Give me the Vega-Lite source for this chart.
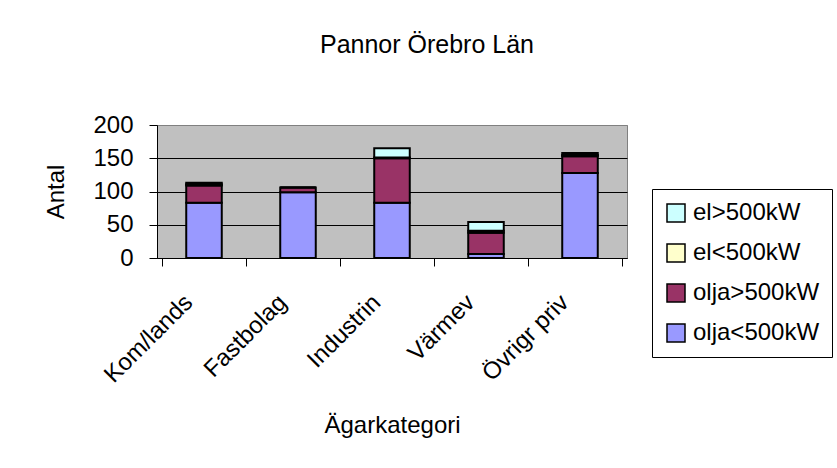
{
  "$schema": "https://vega.github.io/schema/vega-lite/v6.json",
  "width": 470,
  "height": 133,
  "autosize": {"type": "none"},
  "padding": {"left": 157, "top": 125, "right": 210, "bottom": 210},
  "background": "white",
  "title": {"text": "Pannor Örebro Län", "font": "Liberation Sans", "fontSize": 25, "fontWeight": "normal", "color": "black", "anchor": "middle", "dx": 35, "offset": 55},
  "data": {"values": [
    {"kategori": "Kom/lands", "serie": "olja<500kW", "antal": 83},
    {"kategori": "Kom/lands", "serie": "olja>500kW", "antal": 26},
    {"kategori": "Kom/lands", "serie": "el<500kW", "antal": 2},
    {"kategori": "Kom/lands", "serie": "el>500kW", "antal": 2},
    {"kategori": "Fastbolag", "serie": "olja<500kW", "antal": 99},
    {"kategori": "Fastbolag", "serie": "olja>500kW", "antal": 7},
    {"kategori": "Fastbolag", "serie": "el<500kW", "antal": 0},
    {"kategori": "Fastbolag", "serie": "el>500kW", "antal": 0},
    {"kategori": "Industrin", "serie": "olja<500kW", "antal": 83},
    {"kategori": "Industrin", "serie": "olja>500kW", "antal": 67},
    {"kategori": "Industrin", "serie": "el<500kW", "antal": 1},
    {"kategori": "Industrin", "serie": "el>500kW", "antal": 14},
    {"kategori": "Värmev", "serie": "olja<500kW", "antal": 6},
    {"kategori": "Värmev", "serie": "olja>500kW", "antal": 32},
    {"kategori": "Värmev", "serie": "el<500kW", "antal": 3},
    {"kategori": "Värmev", "serie": "el>500kW", "antal": 13},
    {"kategori": "Övrigr priv", "serie": "olja<500kW", "antal": 128},
    {"kategori": "Övrigr priv", "serie": "olja>500kW", "antal": 25},
    {"kategori": "Övrigr priv", "serie": "el<500kW", "antal": 2},
    {"kategori": "Övrigr priv", "serie": "el>500kW", "antal": 3}
  ]},
  "transform": [
    {"calculate": "indexof(['olja<500kW','olja>500kW','el<500kW','el>500kW'], datum.serie)", "as": "o"}
  ],
  "mark": {"type": "bar", "width": {"band": 0.42}, "stroke": "black", "strokeWidth": 2},
  "encoding": {
    "x": {
      "field": "kategori", "type": "nominal", "sort": null,
      "axis": {
        "title": "Ägarkategori", "titleFont": "Liberation Sans", "titleFontSize": 24, "titleFontWeight": "normal", "titleColor": "black",
        "titleY": 174, "titleBaseline": "alphabetic",
        "tickBand": "extent", "labelAngle": -45, "labelAlign": "right", "labelBaseline": "top",
        "labelFont": "Liberation Sans", "labelFontSize": 24, "labelColor": "black", "labelPadding": 24, "labelOffset": -24,
        "tickSize": 8, "tickColor": "black", "domainColor": "black", "grid": false
      }
    },
    "y": {
      "field": "antal", "type": "quantitative", "stack": "zero",
      "scale": {"domain": [0, 200]},
      "axis": {
        "values": [0, 50, 100, 150, 200],
        "title": "Antal", "titleFont": "Liberation Sans", "titleFontSize": 24, "titleFontWeight": "normal", "titleColor": "black",
        "titleAngle": -90, "titleX": -94, "titleY": 66.5, "titleAlign": "center", "titleBaseline": "alphabetic",
        "labelFont": "Liberation Sans", "labelFontSize": 24, "labelColor": "black", "labelPadding": 16,
        "tickSize": 8, "tickColor": "black", "domainColor": "black",
        "grid": true, "gridColor": {"condition": {"test": "datum.value >= 200", "value": "#808080"}, "value": "black"}, "gridOpacity": 1
      }
    },
    "color": {
      "field": "serie", "type": "nominal",
      "scale": {"domain": ["el>500kW", "el<500kW", "olja>500kW", "olja<500kW"], "range": ["#CCFFFF", "#FFFFCC", "#993366", "#9999FF"]},
      "legend": {
        "title": null, "orient": "none", "legendX": 495, "legendY": 64,
        "strokeColor": "black", "padding": 12, "fillColor": "white",
        "symbolType": "square", "symbolSize": 324, "symbolStrokeColor": "black", "symbolStrokeWidth": 1.5,
        "labelFont": "Liberation Sans", "labelFontSize": 24, "labelColor": "black", "labelOffset": 5,
        "rowPadding": 16
      }
    },
    "order": {"field": "o", "type": "quantitative"}
  },
  "config": {
    "view": {"fill": "#C0C0C0", "stroke": "#808080", "strokeWidth": 1},
    "font": "Liberation Sans"
  }
}
